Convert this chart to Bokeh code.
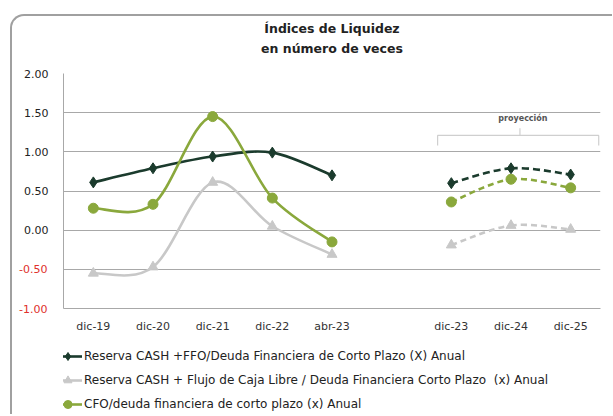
import numpy as np
from bokeh.plotting import figure
from bokeh.layouts import column
from bokeh.models import (FixedTicker, Label, Legend, LegendItem, Range1d, ColumnDataSource,
                          LinearAxis)
from bokeh.embed import file_html
from bokeh.resources import INLINE

# ---------------- data ----------------
categories = ["dic-19", "dic-20", "dic-21", "dic-22", "abr-23", "", "dic-23", "dic-24", "dic-25"]
hist_idx = [0, 1, 2, 3, 4]
proj_idx = [6, 7, 8]

cash_ffo_hist = [0.61, 0.79, 0.94, 0.99, 0.70]
cash_ffo_proj = [0.60, 0.79, 0.71]
cash_fcl_hist = [-0.55, -0.47, 0.61, 0.05, -0.31]
cash_fcl_proj = [-0.19, 0.06, 0.01]
cfo_hist = [0.28, 0.33, 1.45, 0.41, -0.15]
cfo_proj = [0.36, 0.65, 0.54]

series_names = [
    "Reserva CASH +FFO/Deuda Financiera de Corto Plazo (X) Anual",
    "Reserva CASH + Flujo de Caja Libre / Deuda Financiera Corto Plazo  (x) Anual",
    "CFO/deuda financiera de corto plazo (x) Anual",
]
y_ticks = [-1.0, -0.5, 0.0, 0.5, 1.0, 1.5, 2.0]
y_tick_labels = ["-1.00", "-0.50", "0.00", "0.50", "1.00", "1.50", "2.00"]

title_lines = ["Índices de Liquidez", "en número de veces"]
proj_label = "proyección"

# ---------------- style ----------------
DARK = "#1b3b2d"
GRAY = "#c8c8c8"
GREEN = "#8aa83c"
GRID = "#a8a8a8"
FONT = "DejaVu Sans"

p = figure(width=600, height=322, x_range=Range1d(-0.5, 8.5), y_range=Range1d(-1, 2),
           output_backend="svg", toolbar_location=None, title_location=None,
           min_border_left=51, min_border_right=12, min_border_top=57, min_border_bottom=30)
p.outline_line_color = None
p.background_fill_color = "white"
p.border_fill_color = None

# x axis
p.xaxis.ticker = FixedTicker(ticks=list(range(len(categories))))
p.xaxis.major_label_overrides = {i: c for i, c in enumerate(categories)}
p.xaxis.major_tick_line_color = None
p.xaxis.minor_tick_line_color = None
p.xaxis.axis_line_color = GRID
p.xaxis.major_label_standoff = 5
p.xaxis.major_label_text_font = FONT
p.xaxis.major_label_text_font_size = "11px"
p.xaxis.major_label_text_color = "#333333"

# y axis: positive labels in black
pos = [(t, l) for t, l in zip(y_ticks, y_tick_labels) if t >= 0]
neg = [(t, l) for t, l in zip(y_ticks, y_tick_labels) if t < 0]
p.yaxis.ticker = FixedTicker(ticks=[t for t, _ in pos])
p.yaxis.major_label_overrides = {t: l for t, l in pos}
p.yaxis.major_tick_line_color = None
p.yaxis.minor_tick_line_color = None
p.yaxis.axis_line_color = GRID
p.yaxis.major_label_standoff = 9
p.yaxis.major_label_text_font = FONT
p.yaxis.major_label_text_font_size = "11px"
p.yaxis.major_label_text_color = "#222222"

# y axis: negative labels in red, pulled onto the same column
neg_axis = LinearAxis(ticker=FixedTicker(ticks=[t for t, _ in neg]),
                      major_label_overrides={t: l for t, l in neg},
                      major_tick_line_color=None, minor_tick_line_color=None,
                      major_tick_out=0, minor_tick_out=0,
                      axis_line_color=None, major_label_standoff=-26,
                      major_label_text_font=FONT, major_label_text_font_size="11px",
                      major_label_text_color="#e0302c")
p.add_layout(neg_axis, "left")

# titles as labels of empty axes above the frame (first added sits nearest the frame)
title_span = (-0.2, 8.48)
for text, standoff in [(title_lines[1], 18), (title_lines[0], 2)]:
    p.add_layout(LinearAxis(ticker=FixedTicker(ticks=[]), axis_label=text, bounds=title_span,
                            axis_line_color=None, major_tick_line_color=None,
                            minor_tick_line_color=None, major_tick_out=0, minor_tick_out=0,
                            major_label_standoff=0, axis_label_standoff=standoff,
                            axis_label_text_font=FONT, axis_label_text_font_size="12.5px",
                            axis_label_text_font_style="bold",
                            axis_label_text_color="#222222"), "above")

p.xgrid.grid_line_color = None
p.ygrid.ticker = FixedTicker(ticks=y_ticks)
p.ygrid.grid_line_color = GRID
p.ygrid.grid_line_width = 1


def smooth(xs, ys):
    x = np.asarray(xs, float)
    y = np.asarray(ys, float)
    xp = np.concatenate([[x[0]], x, [x[-1]]])
    yp = np.concatenate([[y[0]], y, [y[-1]]])
    tx = (xp[2:] - xp[:-2]) / 2.0
    ty = (yp[2:] - yp[:-2]) / 2.0
    return dict(x0=x[:-1], y0=y[:-1], x1=x[1:], y1=y[1:],
                cx0=x[:-1] + tx[:-1] / 3, cy0=y[:-1] + ty[:-1] / 3,
                cx1=x[1:] - tx[1:] / 3, cy1=y[1:] - ty[1:] / 3)


# legend lives in a small companion figure under the chart
p_leg = figure(width=600, height=76, x_range=Range1d(0, 1), y_range=Range1d(0, 1),
               output_backend="svg", toolbar_location=None, title_location=None,
               x_axis_type=None, y_axis_type=None, min_border=0)
p_leg.outline_line_color = None
p_leg.grid.visible = False
p_leg.border_fill_color = None
p_leg.background_fill_color = None

series = [
    (cash_ffo_hist, cash_ffo_proj, DARK, "diamond", 11, "7 4"),
    (cash_fcl_hist, cash_fcl_proj, GRAY, "triangle", 10, "6 4"),
    (cfo_hist, cfo_proj, GREEN, "circle", 10, "6 4"),
]
items = []
for (h, pr, col, mk, sz, dash), name in zip(series, series_names):
    p.bezier(source=ColumnDataSource(smooth(hist_idx, h)), x0="x0", y0="y0", x1="x1", y1="y1",
             cx0="cx0", cy0="cy0", cx1="cx1", cy1="cy1", line_color=col, line_width=2.6)
    p.bezier(source=ColumnDataSource(smooth(proj_idx, pr)), x0="x0", y0="y0", x1="x1", y1="y1",
             cx0="cx0", cy0="cy0", cx1="cx1", cy1="cy1", line_color=col, line_width=2.6,
             line_dash=dash)
    p.scatter(hist_idx, h, marker=mk, size=sz, fill_color=col, line_color=col)
    p.scatter(proj_idx, pr, marker=mk, size=sz, fill_color=col, line_color=col)
    # hidden copies of the series that only provide the legend swatches
    lr = p_leg.line(hist_idx, h, line_color=col, line_width=2.6, visible=False)
    sr = p_leg.scatter(hist_idx, h, marker=mk, size=sz - 2, fill_color=col, line_color=col,
                       visible=False)
    items.append(LegendItem(label=name, renderers=[lr, sr]))

# projection bracket
br_x = [5.77, 8.47]
br_mid = 7.15
br_top = 1.21
br_end = 1.08
br_tip = 1.30
p.line([br_x[0], br_x[0], br_x[1], br_x[1]], [br_end, br_top, br_top, br_end],
       line_color="#cfcfcf", line_width=1.2)
p.line([br_mid, br_mid], [br_top, br_tip], line_color="#cfcfcf", line_width=1.2)
p.add_layout(Label(x=br_mid + 0.05, y=1.43, text=proj_label, text_align="center",
                   text_baseline="middle", text_font=FONT, text_font_size="8px",
                   text_font_style="bold", text_color="#555555"))

legend = Legend(items=items, location=(-10, 0), orientation="vertical",
                glyph_width=29, glyph_height=20, label_height=20, spacing=4, padding=0,
                margin=0, label_standoff=2, border_line_alpha=0, background_fill_alpha=0,
                label_text_font=FONT, label_text_font_size="12px",
                label_text_color="#222222")
p_leg.add_layout(legend, "center")

layout = column(p, p_leg, spacing=0, margin=(14, 0, 0, 10),
                styles={"border-top": "2px solid #a0a0a0", "border-left": "2px solid #a0a0a0",
                        "border-top-left-radius": "14px"})

open("out.html", "w").write(file_html(layout, INLINE))
